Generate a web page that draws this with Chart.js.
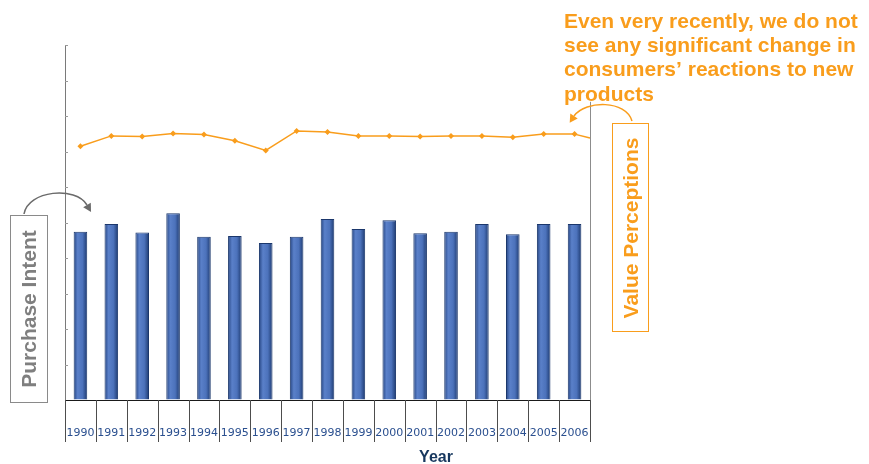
<!DOCTYPE html>
<html>
<head>
<meta charset="utf-8">
<script src="https://cdn.jsdelivr.net/npm/chart.js@4.4.1/dist/chart.umd.min.js"></script>
<style>
  html, body { margin: 0; padding: 0; background: #fff; }
  #wrap { width: 869px; height: 464px; position: relative; }
</style>
</head>
<body>
<div id="wrap"><canvas id="purchaseChart"></canvas></div>
<script>
// data (index, 0-100 scale)
var years = ["1990", "1991", "1992", "1993", "1994", "1995", "1996", "1997", "1998",
  "1999", "2000", "2001", "2002", "2003", "2004", "2005", "2006"];
var purchaseIntent = [47.4, 49.6, 47.2, 52.6, 46.0, 46.2, 44.2, 46.0, 51.0,
  48.2, 50.6, 47.0, 47.4, 49.6, 46.7, 49.6, 49.6];
var valuePerceptions = [71.5, 74.4, 74.2, 75.1, 74.8, 73.0, 70.3, 75.8, 75.5,
  74.4, 74.4, 74.2, 74.4, 74.4, 74.0, 74.9, 74.9];
var valueTail = 73.8;      // line keeps going to the right axis
var rightAxisTop = 84;     // right axis only starts at this value
var yTicks = [10, 20, 30, 40, 50, 60, 70, 80, 90, 100];

var orange = "#f99d1c";
var calloutLines = [
  "Even very recently, we do not",
  "see any significant change in",
  "consumers\u2019 reactions to new",
  "products",
];

function barGradient(c) {
  var xs = c.chart.scales.x;
  if (!xs || c.dataIndex === undefined) return "#4a6fb5";
  var px = xs.getPixelForValue(c.dataIndex);
  if (!isFinite(px)) return "#4a6fb5";
  var g = c.chart.ctx.createLinearGradient(px - 7, 0, px + 7, 0);
  g.addColorStop(0, "#23427f");
  g.addColorStop(0.3, "#5a80c9");
  g.addColorStop(0.65, "#4c72bb");
  g.addColorStop(1, "#1b376c");
  return g;
}

function arrowHead(ctx, x, y, dx, dy, size) {
  var len = Math.sqrt(dx * dx + dy * dy);
  var ux = dx / len, uy = dy / len;
  ctx.beginPath();
  ctx.moveTo(x + ux * size, y + uy * size);
  ctx.lineTo(x - uy * size * 0.55, y + ux * size * 0.55);
  ctx.lineTo(x + uy * size * 0.55, y - ux * size * 0.55);
  ctx.closePath();
  ctx.fill();
}

var decorations = {
  id: "decorations",
  afterDraw: function (chart) {
    var ctx = chart.ctx;
    var area = chart.chartArea;
    var y = chart.scales.y;
    var x = chart.scales.x;
    ctx.save();

    // small inner ticks on the left axis
    ctx.strokeStyle = "#9a9a9a";
    ctx.lineWidth = 1;
    yTicks.forEach(function (v) {
      var py = Math.round(y.getPixelForValue(v)) + 0.5;
      ctx.beginPath();
      ctx.moveTo(area.left, py);
      ctx.lineTo(area.left + 3, py);
      ctx.stroke();
    });

    // category separators below the x axis
    var half = (x.getPixelForValue(1) - x.getPixelForValue(0)) / 2;
    ctx.strokeStyle = "#4d4d4d";
    for (var i = 0; i <= years.length; i++) {
      var sx = Math.round(x.getPixelForValue(i) - half) + 0.5;
      ctx.beginPath();
      ctx.moveTo(sx, area.bottom);
      ctx.lineTo(sx, area.bottom + 42);
      ctx.stroke();
    }

    // right axis
    ctx.strokeStyle = "#8c8c8c";
    ctx.beginPath();
    ctx.moveTo(Math.round(area.right) + 0.5, y.getPixelForValue(rightAxisTop));
    ctx.lineTo(Math.round(area.right) + 0.5, area.bottom);
    ctx.stroke();

    // tail of the value line
    var last = years.length - 1;
    ctx.strokeStyle = orange;
    ctx.lineWidth = 1.5;
    ctx.beginPath();
    ctx.moveTo(x.getPixelForValue(last), y.getPixelForValue(valuePerceptions[last]));
    ctx.lineTo(area.right, y.getPixelForValue(valueTail));
    ctx.stroke();

    // Purchase Intent box
    ctx.lineWidth = 1;
    ctx.strokeStyle = "#8a8a8a";
    ctx.strokeRect(10.5, 215.5, 37, 187);
    ctx.save();
    ctx.translate(29, 309);
    ctx.rotate(-Math.PI / 2);
    ctx.fillStyle = "#7f7f7f";
    ctx.font = "bold 21px 'Liberation Sans', Arial, sans-serif";
    ctx.textAlign = "center";
    ctx.textBaseline = "middle";
    ctx.fillText("Purchase Intent", 0, 1);
    ctx.restore();

    // grey arrow
    ctx.strokeStyle = "#6b6b6b";
    ctx.fillStyle = "#6b6b6b";
    ctx.lineWidth = 1.5;
    ctx.beginPath();
    ctx.moveTo(24, 214);
    ctx.bezierCurveTo(28, 190, 76, 186, 87, 205);
    ctx.stroke();
    arrowHead(ctx, 87, 205, 10, 17, 8);

    // Value Perceptions box
    ctx.lineWidth = 1;
    ctx.strokeStyle = orange;
    ctx.strokeRect(612.5, 123.5, 36, 208);
    ctx.save();
    ctx.translate(631, 228);
    ctx.rotate(-Math.PI / 2);
    ctx.fillStyle = orange;
    ctx.font = "bold 21px 'Liberation Sans', Arial, sans-serif";
    ctx.textAlign = "center";
    ctx.textBaseline = "middle";
    ctx.fillText("Value Perceptions", 0, 1);
    ctx.restore();

    // orange arrow
    ctx.strokeStyle = orange;
    ctx.fillStyle = orange;
    ctx.lineWidth = 1.5;
    ctx.beginPath();
    ctx.moveTo(632, 121);
    ctx.bezierCurveTo(626, 100, 586, 100, 574, 116);
    ctx.stroke();
    arrowHead(ctx, 574, 116, -9, 14, 8);

    // callout text
    ctx.fillStyle = orange;
    ctx.font = "bold 21px 'Liberation Sans', Arial, sans-serif";
    ctx.textAlign = "left";
    ctx.textBaseline = "alphabetic";
    calloutLines.forEach(function (t, i) {
      ctx.fillText(t, 564, 28 + i * 24.2);
    });

    // axis title
    ctx.fillStyle = "#17375e";
    ctx.font = "bold 16px 'Liberation Sans', Arial, sans-serif";
    ctx.textAlign = "center";
    ctx.fillText("Year", 436, 462);

    ctx.restore();
  },
};

var canvas = document.getElementById("purchaseChart");
new Chart(canvas, {
  type: "bar",
  data: {
    labels: years,
    datasets: [
      {
        type: "line",
        label: "Value Perceptions",
        data: valuePerceptions,
        borderColor: orange,
        backgroundColor: orange,
        borderWidth: 1.5,
        pointStyle: "rectRot",
        pointRadius: 3,
        pointBorderWidth: 0,
        pointBackgroundColor: orange,
        tension: 0,
        order: 0,
      },
      {
        label: "Purchase Intent",
        data: purchaseIntent,
        backgroundColor: barGradient,
        borderColor: "#1b376c",
        borderWidth: 1,
        barPercentage: 0.44,
        categoryPercentage: 1,
        order: 1,
      },
    ],
  },
  options: {
    responsive: true,
    maintainAspectRatio: false,
    animation: false,
    layout: {
      padding: { left: 65, right: 279, top: 45, bottom: 24 },
    },
    plugins: {
      legend: { display: false },
      tooltip: { enabled: false },
    },
    scales: {
      x: {
        offset: true,
        afterFit: function (scale) { scale.height = 40; },
        grid: {
          offset: true,
          drawOnChartArea: false,
          drawTicks: false,
        },
        border: { color: "#1a1a1a" },
        ticks: {
          padding: 27,
          color: "#2a4f8f",
          font: { family: "'DejaVu Sans', Verdana, sans-serif", size: 11 },
          maxRotation: 0,
          autoSkip: false,
        },
      },
      y: {
        min: 0,
        max: 100,
        afterFit: function (scale) { scale.width = 0; },
        ticks: { display: false, stepSize: 10 },
        grid: { drawOnChartArea: false, drawTicks: false },
        border: { color: "#7a7a7a" },
      },
    },
  },
  plugins: [decorations],
});
</script>
</body>
</html>
